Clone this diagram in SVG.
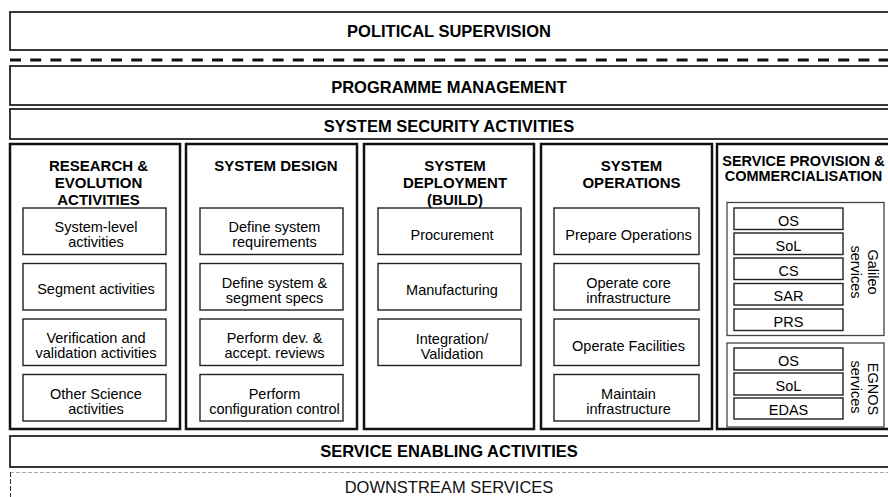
<svg xmlns="http://www.w3.org/2000/svg" width="888" height="497" viewBox="0 0 888 497">
<style>
text{font-family:"Liberation Sans",Arial,sans-serif;fill:#000;text-anchor:middle}
.row{fill:#fff;stroke:#222;stroke-width:1.8}
.col{fill:#fff;stroke:#111;stroke-width:2.5}
.box{fill:#fff;stroke:#222;stroke-width:1.4}
.grp{fill:#fff;stroke:#444;stroke-width:1.3}
.rt{font-weight:bold;font-size:16.5px}
.ct{font-weight:bold;font-size:15px}
.ct5{font-weight:bold;font-size:14.5px}
.bt{font-size:14.5px}
.st{font-size:14.5px}
.vt{font-size:14.5px;text-anchor:middle}
</style>
<rect width="888" height="497" fill="#fff"/>

<g id="political">
<rect class="row" x="10" y="12" width="890" height="38"/>
<text class="rt" x="449" y="37">POLITICAL SUPERVISION</text>
</g>

<g id="connectors">
<line x1="10" y1="60" x2="888" y2="60" stroke="#111" stroke-width="3" stroke-dasharray="11 9.2"/>
</g>

<g id="programme">
<rect class="row" x="10" y="66" width="890" height="39"/>
<text class="rt" x="449" y="93">PROGRAMME MANAGEMENT</text>
</g>

<g id="security">
<rect class="row" x="10" y="109" width="890" height="30"/>
<text class="rt" x="449" y="131.5">SYSTEM SECURITY ACTIVITIES</text>
</g>

<g id="research">
<rect class="col" x="10" y="144" width="170" height="285"/>
<text class="ct" x="98.5" y="171">RESEARCH &amp;</text>
<text class="ct" x="98.5" y="188">EVOLUTION</text>
<text class="ct" x="98.5" y="205">ACTIVITIES</text>
<rect class="box" x="23" y="208" width="143" height="46.5"/>
<text class="bt" x="96" y="232">System-level</text>
<text class="bt" x="96" y="247">activities</text>
<rect class="box" x="23" y="263.5" width="143" height="46.5"/>
<text class="bt" x="96" y="294">Segment activities</text>
<rect class="box" x="23" y="319" width="143" height="46.5"/>
<text class="bt" x="96" y="343">Verification and</text>
<text class="bt" x="96" y="358">validation activities</text>
<rect class="box" x="23" y="374.5" width="143" height="46.5"/>
<text class="bt" x="96" y="398.5">Other Science</text>
<text class="bt" x="96" y="413.5">activities</text>
</g>

<g id="design">
<rect class="col" x="186" y="144" width="171" height="285"/>
<text class="ct" x="276" y="171">SYSTEM DESIGN</text>
<rect class="box" x="200" y="208" width="143" height="46.5"/>
<text class="bt" x="274.5" y="232">Define system</text>
<text class="bt" x="274.5" y="247">requirements</text>
<rect class="box" x="200" y="263.5" width="143" height="46.5"/>
<text class="bt" x="274.5" y="287.5">Define system &amp;</text>
<text class="bt" x="274.5" y="302.5">segment specs</text>
<rect class="box" x="200" y="319" width="143" height="46.5"/>
<text class="bt" x="274.5" y="343">Perform dev. &amp;</text>
<text class="bt" x="274.5" y="358">accept. reviews</text>
<rect class="box" x="200" y="374.5" width="143" height="46.5"/>
<text class="bt" x="274.5" y="398.5">Perform</text>
<text class="bt" x="274.5" y="413.5">configuration control</text>
</g>

<g id="deployment">
<rect class="col" x="364" y="144" width="170" height="285"/>
<text class="ct" x="455" y="171">SYSTEM</text>
<text class="ct" x="455" y="188">DEPLOYMENT</text>
<text class="ct" x="455" y="205">(BUILD)</text>
<rect class="box" x="378" y="208" width="143" height="46.5"/>
<text class="bt" x="452" y="240">Procurement</text>
<rect class="box" x="378" y="263.5" width="143" height="46.5"/>
<text class="bt" x="452" y="295">Manufacturing</text>
<rect class="box" x="378" y="319" width="143" height="46.5"/>
<text class="bt" x="452" y="343.5">Integration/</text>
<text class="bt" x="452" y="358.5">Validation</text>
</g>

<g id="operations">
<rect class="col" x="541" y="144" width="171" height="285"/>
<text class="ct" x="631.5" y="171">SYSTEM</text>
<text class="ct" x="631.5" y="188">OPERATIONS</text>
<rect class="box" x="554" y="208" width="145" height="46.5"/>
<text class="bt" x="628.5" y="240">Prepare Operations</text>
<rect class="box" x="554" y="263.5" width="145" height="46.5"/>
<text class="bt" x="628.5" y="287.5">Operate core</text>
<text class="bt" x="628.5" y="302.5">infrastructure</text>
<rect class="box" x="554" y="319" width="145" height="46.5"/>
<text class="bt" x="628.5" y="350.5">Operate Facilities</text>
<rect class="box" x="554" y="374.5" width="145" height="46.5"/>
<text class="bt" x="628.5" y="398.5">Maintain</text>
<text class="bt" x="628.5" y="413.5">infrastructure</text>
</g>

<g id="provision">
<rect class="col" x="717" y="144" width="180" height="285"/>
<text class="ct5" x="803.5" y="166">SERVICE PROVISION &amp;</text>
<text class="ct5" x="803.5" y="181">COMMERCIALISATION</text>
</g>

<g id="galileo">
<rect class="grp" x="727" y="202.5" width="157" height="133"/>
<rect class="box" x="734" y="208" width="109" height="21.5"/>
<text class="st" x="788.5" y="225.5">OS</text>
<rect class="box" x="734" y="233" width="109" height="21.5"/>
<text class="st" x="788.5" y="250.5">SoL</text>
<rect class="box" x="734" y="258" width="109" height="21.5"/>
<text class="st" x="788.5" y="275.5">CS</text>
<rect class="box" x="734" y="283.5" width="109" height="21.5"/>
<text class="st" x="788.5" y="301">SAR</text>
<rect class="box" x="734" y="309" width="109" height="21.5"/>
<text class="st" x="788.5" y="326.5">PRS</text>
<text class="vt" transform="translate(868,272) rotate(90)">Galileo</text>
<text class="vt" transform="translate(851,272) rotate(90)">services</text>
</g>

<g id="egnos">
<rect class="grp" x="727" y="343" width="157" height="84"/>
<rect class="box" x="734" y="348" width="109" height="22"/>
<text class="st" x="788.5" y="365.5">OS</text>
<rect class="box" x="734" y="373" width="109" height="22"/>
<text class="st" x="788.5" y="390.5">SoL</text>
<rect class="box" x="734" y="398" width="109" height="21"/>
<text class="st" x="788.5" y="415">EDAS</text>
<text class="vt" transform="translate(868,389) rotate(90)">EGNOS</text>
<text class="vt" transform="translate(851,387) rotate(90)">services</text>
</g>

<g id="enabling">
<rect class="row" x="10" y="436" width="890" height="31"/>
<text class="rt" x="449" y="457">SERVICE ENABLING ACTIVITIES</text>
</g>

<g id="downstream">
<line x1="10" y1="472.5" x2="888" y2="472.5" stroke="#aaa" stroke-width="1" stroke-dasharray="4 2"/>
<line x1="10.5" y1="472" x2="10.5" y2="497" stroke="#333" stroke-width="1" stroke-dasharray="5 2"/>
<text x="449" y="493" style="font-size:16.5px;fill:#111">DOWNSTREAM SERVICES</text>
</g>
</svg>
